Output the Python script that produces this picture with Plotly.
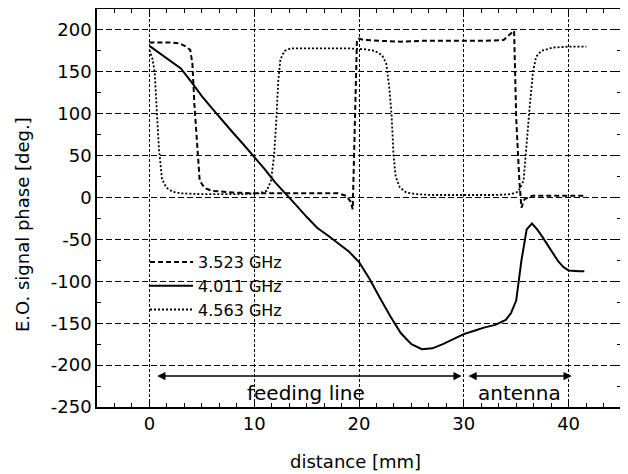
import plotly.graph_objects as go

# 3.523 GHz (dashed)
x_3523 = [0, 1, 2, 2.9, 3.5, 3.9, 4.1, 4.3, 4.5, 4.8, 5.3, 6, 8, 10, 12, 14, 16, 18, 18.8, 19.2, 19.4,
          19.55, 19.7, 19.8, 19.9, 20.5, 22, 24, 26, 28, 30, 32, 33.8, 34.3, 34.8, 35.0, 35.3, 35.5,
          35.8, 36.5, 38, 40, 41.7]
y_3523 = [185, 185, 185, 184, 180, 176, 160, 110, 70, 20, 11, 8, 6, 5, 5, 5, 5, 5, 2, -5, -14,
          50, 130, 186, 190, 188, 187, 186, 187, 187, 187, 187, 188, 193, 199, 95, 20, -12,
          -2, 2, 2, 2, 2]

# 4.011 GHz (solid)
x_4011 = [0, 1, 2, 3, 4, 5, 6, 7, 8, 9, 10, 11, 12, 13, 14, 15, 16, 17, 18, 19, 20, 21, 22, 23, 24,
          25, 26, 27, 28, 29, 30, 31, 32, 33, 34, 34.5, 35, 35.5, 36, 36.5, 37, 37.5, 38, 38.5, 39,
          39.5, 40, 41, 41.5]
y_4011 = [181, 172, 163, 154, 138, 121, 106, 91, 77, 63, 49, 34, 18, 5, -9, -23, -36, -45, -55, -64,
          -77, -97, -120, -142, -162, -175, -181, -180, -175, -169, -163, -159, -155, -152, -146,
          -138, -123, -75, -38, -31, -38, -47, -57, -67, -76, -83, -87, -88, -88]

# 4.563 GHz (dotted)
x_4563 = [0, 0.3, 0.5, 0.7, 0.9, 1.2, 1.6, 2.2, 3, 5, 7, 9, 10.5, 11.2, 11.6, 11.9, 12.1, 12.3, 12.5,
          12.9, 13.5, 15, 17, 19, 20.5, 21.5, 22.2, 22.6, 22.9, 23.1, 23.3, 23.5, 23.9, 24.5, 25.5,
          27, 29, 31, 33, 34.5, 35.2, 35.7, 36.0, 36.3, 36.6, 36.9, 37.4, 38.5, 40, 41.7]
y_4563 = [176, 165, 150, 100, 60, 22, 12, 7, 5, 4, 4, 4, 5, 8, 20, 50, 90, 140, 165,
          175, 178, 178, 178, 178, 177, 175, 170, 160, 130, 100, 50, 25, 12, 6, 4,
          3, 3, 3, 3, 4, 7, 20, 70, 110, 150, 168, 175, 179, 180, 180]

series_names = ["3.523 GHz", "4.011 GHz", "4.563 GHz"]

x_ticks = [0, 10, 20, 30, 40]
x_ticktext = ["0", "10", "20", "30", "40"]
y_ticks = [-250, -200, -150, -100, -50, 0, 50, 100, 150, 200]
y_ticktext = ["-250", "-200", "-150", "-100", "-50", "0", "50", "100", "150", "200"]

# region arrows
arrow_y = -213
feed_span = [0.6, 29.8]
ant_span = [30.3, 40.3]
labels = ["feeding line", "antenna"]
label_x = [14.9, 35.3]
label_y = -233

x_title = "distance [mm]"
y_title = "E.O. signal phase [deg.]"

FONT = "DejaVu Sans, sans-serif"

# page body has an 8px default margin; compensate in figure margins
OFF = 8
PL, PR, PT, PB = 97, 621, 9, 407   # target plot area in page pixels
W, H = 628, 474

fig = go.Figure()
fig.add_trace(go.Scatter(x=x_3523, y=y_3523, mode="lines", name=series_names[0],
                         line=dict(color="black", width=2, dash="5px,3px")))
fig.add_trace(go.Scatter(x=x_4011, y=y_4011, mode="lines", name=series_names[1],
                         line=dict(color="black", width=2)))
fig.add_trace(go.Scatter(x=x_4563, y=y_4563, mode="lines", name=series_names[2],
                         line=dict(color="black", width=1.8, dash="2px,2px")))

for (a, b) in [feed_span, ant_span]:
    fig.add_annotation(x=b, y=arrow_y, ax=a, ay=arrow_y, xref="x", yref="y",
                       axref="x", ayref="y", text="", showarrow=True,
                       arrowhead=2, startarrowhead=2, arrowside="end+start",
                       arrowsize=1.1, startarrowsize=1.1, arrowwidth=1.5, arrowcolor="black")

for t, lx in zip(labels, label_x):
    fig.add_annotation(x=lx, y=label_y, xref="x", yref="y", text=t, showarrow=False,
                       font=dict(family=FONT, size=20, color="black"))

pw, ph = PR - PL, PB - PT
fig.add_annotation(x=0, y=1 - (225 - PT) / ph, xref="paper", yref="paper", text=y_title,
                   showarrow=False, textangle=-90, xanchor="center", yanchor="middle",
                   xshift=-(PL - 22), font=dict(family=FONT, size=18, color="black"))
fig.add_annotation(x=(355 - PL) / pw, y=0, xref="paper", yref="paper", text=x_title,
                   showarrow=False, xanchor="center", yanchor="middle",
                   yshift=-(461 - PB), font=dict(family=FONT, size=18, color="black"))

axis_common = dict(showline=True, linecolor="black", linewidth=1.5, mirror="ticks",
                   ticks="inside", ticklen=5, tickwidth=1, tickcolor="black",
                   showgrid=True, gridcolor="black", gridwidth=1.2, zeroline=False,
                   automargin=False,
                   tickfont=dict(family=FONT, size=18, color="black"))

fig.update_xaxes(range=[-5, 45], tickvals=x_ticks, ticktext=x_ticktext, griddash="3px,2px",
                 minor=dict(dtick=10/6, tick0=0, ticks="inside", ticklen=4, tickcolor="black", showgrid=False),
                 **axis_common)
fig.update_yaxes(range=[-250, 225], tickvals=y_ticks, ticktext=y_ticktext, griddash="6px,3px",
                 minor=dict(dtick=25, tick0=0, ticks="inside", ticklen=4, tickcolor="black", showgrid=False),
                 **axis_common)

fig.update_layout(
    width=W, height=H,
    margin=dict(l=PL - OFF, r=W - (PR - OFF), t=PT - OFF, b=H - (PB - OFF)),
    paper_bgcolor="white", plot_bgcolor="white",
    showlegend=True,
    legend=dict(x=(145 - PL) / pw, y=1 - (245 - PT) / ph, xanchor="left", yanchor="top",
                bgcolor="rgba(0,0,0,0)", borderwidth=0, itemwidth=43,
                font=dict(family=FONT, size=16, color="black")),
)

fig.write_html("out.html")
